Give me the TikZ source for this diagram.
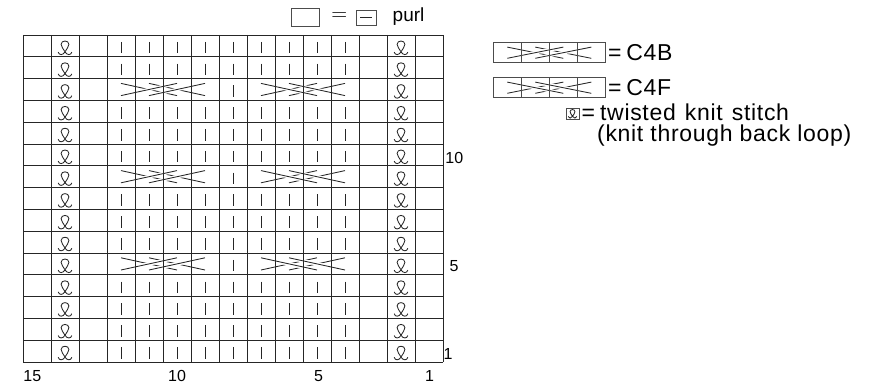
\documentclass[tikz,border=0pt]{standalone}
\usepackage{fontspec}
\setmainfont{Liberation Sans}
\newfontfamily\legendfont[LetterSpace=3]{Liberation Sans}
\newfontfamily\eqfont{Latin Modern Roman}
\usetikzlibrary{positioning}

\begin{document}
\begin{tikzpicture}[
        x=1pt, y=-1pt,
        grid/.style    = {draw=black!85, line width=0.9pt},
        keybox/.style  = {draw=black!70, line width=0.8pt},
        knit/.style    = {draw=black!85, line width=0.8pt},
        strand/.style  = {draw=black!85, line width=0.85pt},
        over/.style    = {strand, preaction={draw=white, line width=3.5pt}},
        num/.style     = {font=\fontsize{16}{16}\selectfont, inner sep=0pt},
        keytext/.style = {font=\legendfont\fontsize{23}{23}\selectfont,
                          inner sep=0pt, anchor=base west},
        pics/tbl/.style = {code={
            \draw[strand, x=1pt, y=1pt] (-5.8,-3.4) .. controls (-5,-6.3) and (-1.7,-6.2) .. (0,-3.2)
                .. controls (1.4,-0.6) and (3.3,1.2) .. (3.3,3.2)
                .. controls (3.3,6.9) and (-3.3,6.9) .. (-3.3,3.2)
                .. controls (-3.3,1.2) and (-1.4,-0.6) .. (0,-3.2)
                .. controls (1.7,-6.2) and (5,-6.3) .. (5.8,-3.4);
        }},
        pics/cableB/.style = {code={
            \begin{scope}[x=28pt, y=21.8pt]
                \draw[strand] (2.5,0.22) -- (0.5,0.78);
                \draw[strand] (3.5,0.22) -- (1.5,0.78);
                \draw[over] (0.5,0.22) -- (2.5,0.78);
                \draw[over] (1.5,0.22) -- (3.5,0.78);
            \end{scope}
        }},
        pics/cableF/.style = {code={
            \begin{scope}[x=28pt, y=21.8pt]
                \draw[strand] (0.5,0.22) -- (2.5,0.78);
                \draw[strand] (1.5,0.22) -- (3.5,0.78);
                \draw[over] (2.5,0.22) -- (0.5,0.78);
                \draw[over] (3.5,0.22) -- (1.5,0.78);
            \end{scope}
        }}
    ]
    \useasboundingbox (0,0) rectangle (875,385);

    % chart, 15 sts x 15 rows
    \begin{scope}[shift={(23,35)}, x=28pt, y=-21.8pt]
        \foreach \r in {0,...,14} {
            \pic[scale=1.18] at (1.5,\r+0.6) {tbl};
            \pic[scale=1.18] at (13.5,\r+0.6) {tbl};
            \draw[knit] (7.5,\r+0.31) -- (7.5,\r+0.84);
        }
        \foreach \r in {0,1,3,4,5,7,8,9,11,12,13,14}
            \foreach \c in {3,4,5,6,8,9,10,11}
                \draw[knit] (\c+0.5,\r+0.31) -- (\c+0.5,\r+0.84);
        \foreach \r in {2,6,10} {
            \pic at (3,\r+1) {cableB};
            \pic at (8,\r+1) {cableF};
        }
        \foreach \c in {0,...,15} \draw[grid] (\c,0) -- (\c,15);
        \foreach \r in {0,...,15} \draw[grid] (0,\r) -- (15,\r);
    \end{scope}

    % row and stitch numbers
    \node[num, anchor=base west] (r10) at (445.2,163.3) {10};
    \node[num, anchor=base west] (r5)  at (449.3,271.7) {5};
    \node[num, anchor=base west] (r1)  at (443.5,359)   {1};
    \node[num, anchor=base west] (c15) at (23.2,381.7)  {15};
    \node[num, anchor=base] (c10) at (177,381.7) {10};
    \node[num, anchor=base] (c5)  at (318.5,381.7) {5};
    \node[num, anchor=base] (c1)  at (429.5,381.7) {1};

    % purl key
    \node[keybox, inner sep=0pt, minimum width=27.6pt, minimum height=17.7pt] (blank) at (305.5,17.2) {};
    \node[font=\eqfont\fontsize{22}{22}\selectfont, inner sep=0pt] (purleq) at (339.2,17) {=};
    \node[keybox, inner sep=0pt, minimum width=20pt, minimum height=15pt] (purlsym) at (366,17.5) {};
    \draw[knit] ([xshift=-6pt]purlsym.center) -- ([xshift=6pt]purlsym.center);
    \node[font=\fontsize{19}{19}\selectfont, inner sep=0pt, anchor=base west] (purl) at (392.5,21.5) {purl};

    % cable keys
    \pic[yscale=0.917] at (493.3,62.7) {cableB};
    \pic[yscale=0.917] at (493.3,97.7) {cableF};
    \foreach \k in {0,...,3} {
        \draw[keybox] (493.3+28.1*\k,42.7) rectangle +(28.1,20);
        \draw[keybox] (493.3+28.1*\k,77.7) rectangle +(28.1,20);
    }
    \node[keytext] (c4b) at (607.8,60.7) {=\kern5pt C4B};
    \node[keytext] (c4f) at (607.8,95.7) {=\kern5pt C4F};

    % twisted stitch key
    \draw[keybox] (566,108) rectangle (579,119.3);
    \pic[scale=0.74] at (572.5,114) {tbl};
    \node[keytext] (tw)   at (581.5,120.7) {=\kern5pt twisted\kern2pt{} knit\kern2pt{} stitch};
    \node[keytext] (tbl2) at (597,141.5) {(knit through back loop)};
\end{tikzpicture}
\end{document}
